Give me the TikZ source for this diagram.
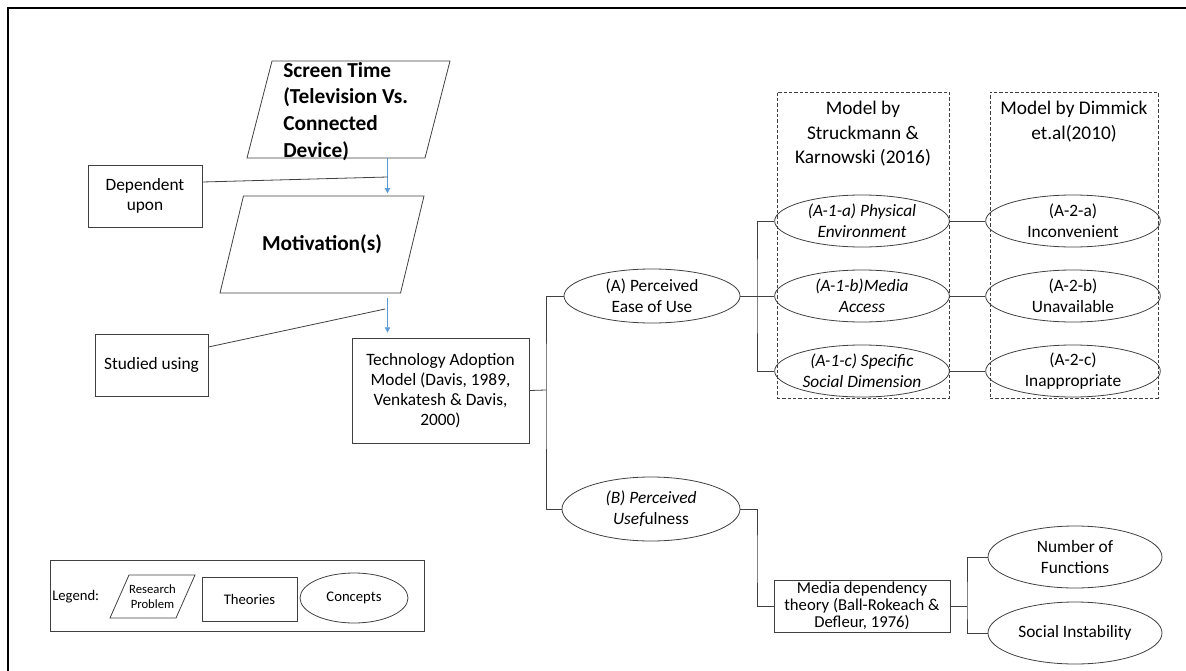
\documentclass[tikz,border=0pt]{standalone}
\usepackage{fontspec}
\setmainfont{Carlito}
\usetikzlibrary{shapes.geometric,arrows.meta,positioning}
\definecolor{flowblue}{HTML}{5B9BD5}
\definecolor{linegray}{HTML}{404040}
\newcommand{\slantframe}[2]{\draw[link] ([xshift=#2]#1.north west) -- (#1.north east) -- ([xshift=-#2]#1.south east) -- (#1.south west) -- cycle;}

\begin{document}
\begin{tikzpicture}[x=0.75pt, y=-0.75pt,
    problem/.style={rectangle, inner sep=0pt, outer sep=0pt, align=center, font=\fontsize{16}{20}\selectfont\bfseries},
    theory/.style={draw=linegray, line width=0.6pt, rectangle, inner sep=0pt, align=center, font=\fontsize{13}{15}\selectfont},
    concept/.style={draw=linegray, line width=0.6pt, ellipse, inner sep=0pt, align=center, minimum width=131pt, minimum height=39pt, font=\fontsize{13}{15.5}\selectfont},
    group/.style={draw=linegray, line width=0.6pt, dash pattern=on 2.5pt off 1.5pt, inner sep=0pt},
    heading/.style={inner sep=0pt, align=center, font=\fontsize{14.5}{18.4}\selectfont},
    link/.style={draw=linegray, line width=0.6pt},
    flow/.style={draw=flowblue, line width=0.6pt, -{Triangle[length=4pt,width=4pt]}}]

  \useasboundingbox (0,0) rectangle (1186,671);
  \draw[line width=2pt] (8,671) -- (8,8) -- (1186,8);

  \node[problem, minimum width=152.25pt, minimum height=72.75pt] (screen) at (348.5,109.5) {};
  \slantframe{screen}{18.75pt}
  \node[anchor=north west, inner sep=0pt, align=left, font=\fontsize{16}{20}\selectfont\bfseries] (screentxt) at (283,62) {Screen Time\\(Television Vs.\\Connected\\Device)};
  \node[problem, minimum width=153pt, minimum height=72.75pt] (mot) at (322,244.5) {Motivation(s)};
  \slantframe{mot}{17.6pt}
  \node[theory, minimum width=85.5pt, minimum height=46.5pt] (dep) at (145,196) {Dependent\\upon};
  \node[theory, minimum width=84.75pt, minimum height=46.5pt] (studied) at (151.5,365) {Studied using};
  \node[theory, minimum width=132.75pt, minimum height=78.75pt] (tam) at (440.5,390.5) {Technology Adoption\\Model (Davis, 1989,\\Venkatesh \& Davis,\\2000)};

  \coordinate (drop) at (387.5,0);
  \coordinate (deparrow) at (387.5,177);
  \coordinate (studarrow) at (385,309);
  \draw[flow, shorten >=2pt] (drop |- screen.south) -- (drop |- mot.north);
  \draw[flow, shorten <=3.75pt, shorten >=3.75pt] (drop |- mot.south) -- (drop |- tam.north);
  \draw[link] ([yshift=10.5pt]dep.east) -- (deparrow);
  \draw[link] ([yshift=13.5pt]studied.east) -- (studarrow);

  \node[concept, minimum width=132pt, minimum height=40.5pt] (peou) at (652,296) {(A) Perceived\\Ease of Use};
  \node[concept, minimum width=133.5pt, minimum height=48pt] (pu) at (651,509) {{\itshape (B) Perceived}\\{\itshape Usef}ulness};

  \node[group, minimum width=129pt, minimum height=229.5pt] (struckbox) at (863,245) {};
  \node[heading, below=7pt of struckbox.north] (struckhead) {Model by\\Struckmann \&\\Karnowski (2016)};
  \node[group, minimum width=126pt, minimum height=229.5pt] (dimmbox) at (1074,245) {};
  \node[heading, below=7pt of dimmbox.north] (dimmhead) {Model by Dimmick\\et.al(2010)};

  \node[concept, font=\fontsize{13}{15.5}\selectfont\itshape] (phys) at (862,221) {(A-1-a) Physical\\Environment};
  \node[concept, font=\fontsize{13}{15.5}\selectfont\itshape] (access) at (862,296) {(A-1-b)Media\\Access};
  \node[concept, font=\fontsize{13}{15.5}\selectfont\itshape] (social) at (862,371) {(A-1-c) Specific\\Social Dimension};
  \node[concept] (inconv) at (1073,221) {(A-2-a)\\Inconvenient};
  \node[concept] (unavail) at (1073,296) {(A-2-b)\\Unavailable};
  \node[concept] (inappr) at (1073,371) {(A-2-c)\\Inappropriate};

  \node[theory, minimum width=132pt, minimum height=39pt, font=\fontsize{12.5}{13}\selectfont] (mdt) at (862,606) {Media dependency\\theory (Ball-Rokeach \&\\Defleur, 1976)};
  \node[concept, minimum width=130.5pt, minimum height=46.5pt] (nof) at (1075,557) {Number of\\Functions};
  \node[concept, minimum width=130.5pt, minimum height=46.5pt] (instab) at (1075,633) {Social Instability};

  \coordinate (j1) at (546,390);
  \coordinate (j2) at (757,296);
  \coordinate (j3) at (757,560);
  \coordinate (j4) at (967,606);
  \draw[link] (tam.east) -- (j1);
  \draw[link] (peou.west) -| (j1) |- (pu.west);
  \draw[link] (peou.east) -- (access.west);
  \draw[link] (phys.west) -| (j2) |- (social.west);
  \draw[link] (phys.east) -- (inconv.west);
  \draw[link] (access.east) -- (unavail.west);
  \draw[link] (social.east) -- (inappr.west);
  \draw[link] (pu.east) -| (j3) |- (mdt.west);
  \draw[link] (mdt.east) -- (j4);
  \draw[link] (nof.west) -| (j4) |- (instab.west);

  \node[draw=linegray, line width=0.6pt, minimum width=280.5pt, minimum height=53.25pt, inner sep=0pt] (legend) at (237,595.5) {};
  \node[anchor=west, inner sep=0pt, font=\fontsize{11}{13}\selectfont] (legendtxt) at (52,597) {Legend:};
  \node[problem, minimum width=63.75pt, minimum height=32.25pt, font=\fontsize{9.5}{11}\selectfont] (keyproblem) at (152.5,596.5) {Research\\Problem};
  \slantframe{keyproblem}{14.25pt}
  \node[theory, minimum width=71.25pt, minimum height=33pt, font=\fontsize{11}{13}\selectfont] (keytheory) at (249.5,599) {Theories};
  \node[concept, minimum width=81pt, minimum height=37.5pt, font=\fontsize{11}{13}\selectfont] (keyconcept) at (354,598) {Concepts};
\end{tikzpicture}
\end{document}
